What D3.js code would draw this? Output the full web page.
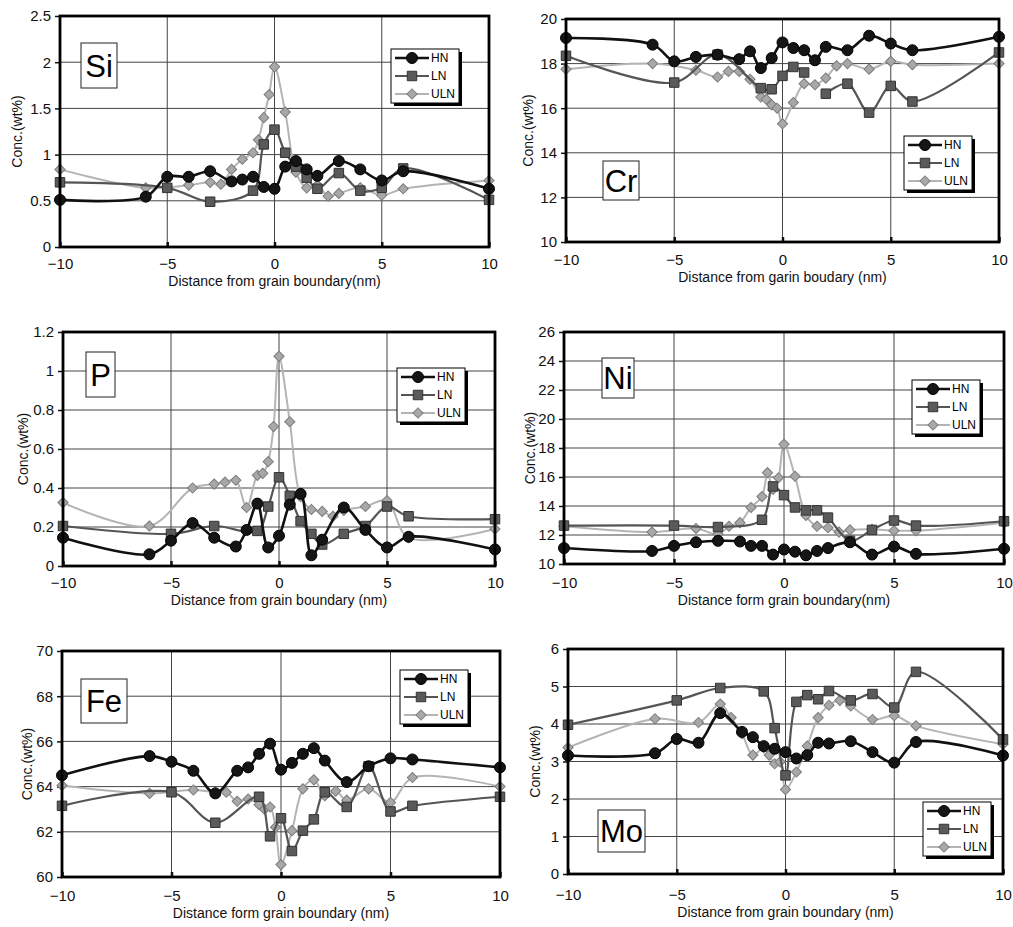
<!DOCTYPE html>
<html>
<head>
<meta charset="utf-8">
<script src="https://cdn.jsdelivr.net/npm/d3@7"></script>
<style>
  body { margin: 0; background: #fff; }
  svg { font-family: "Liberation Sans", Arial, sans-serif; }
</style>
</head>
<body>
<div id="chart"></div>
<script>
// x ticks shared by all panels
var xTicks = [-10, -5, 0, 5, 10];
var seriesNames = ['HN', 'LN', 'ULN'];

// Si
var siHN = [[-10,0.51],[-6,0.545],[-5,0.76],[-4,0.76],[-3,0.82],[-2,0.71],[-1.5,0.73],[-1,0.76],[-0.5,0.65],[0,0.63],[0.5,0.87],[1,0.93],[1.5,0.84],[2,0.77],[3,0.93],[4,0.84],[5,0.72],[6,0.82],[10,0.63]];
var siLN = [[-10,0.70],[-5,0.64],[-3,0.49],[-1,0.61],[-0.5,1.11],[0,1.27],[0.5,1.02],[1,0.87],[1.5,0.75],[2,0.63],[3,0.80],[4,0.61],[5,0.64],[6,0.85],[10,0.51]];
var siULN = [[-10,0.84],[-6,0.64],[-4,0.67],[-3,0.70],[-2.5,0.68],[-2,0.84],[-1.5,0.95],[-1,1.02],[-0.75,1.16],[-0.5,1.40],[-0.25,1.65],[0,1.95],[0.5,1.46],[1,0.81],[1.5,0.64],[2,0.67],[2.5,0.55],[3,0.58],[4,0.64],[5,0.56],[6,0.63],[10,0.72]];

// Cr
var crHN = [[-10,19.15],[-6,18.85],[-5,18.1],[-4,18.3],[-3,18.4],[-2,18.2],[-1.5,18.55],[-1,17.8],[-0.5,18.25],[0,18.95],[0.5,18.7],[1,18.6],[1.5,18.15],[2,18.75],[3,18.6],[4,19.25],[5,18.9],[6,18.6],[10,19.2]];
var crLN = [[-10,18.35],[-5,17.15],[-3,18.4],[-1,16.9],[-0.5,16.85],[0,17.45],[0.5,17.85],[1,17.6],[1.5,null],[2,16.65],[3,17.1],[4,15.8],[5,17.0],[6,16.3],[10,18.5]];
var crULN = [[-10,17.75],[-6,18.0],[-4,17.7],[-3,17.4],[-2.5,17.65],[-2,17.65],[-1.5,17.3],[-1,16.5],[-0.75,16.4],[-0.5,16.15],[-0.25,16.0],[0,15.3],[0.5,16.25],[1,17.1],[1.5,17.05],[2,17.35],[2.5,17.9],[3,18.0],[4,17.75],[5,18.1],[6,17.95],[10,18.0]];

// P
var pHN = [[-10,0.145],[-6,0.06],[-5,0.13],[-4,0.22],[-3,0.145],[-2,0.10],[-1.5,0.185],[-1,0.32],[-0.5,0.095],[0,0.155],[0.5,0.315],[1,0.37],[1.5,0.055],[2,0.135],[3,0.30],[4,0.185],[5,0.095],[6,0.15],[10,0.085]];
var pLN = [[-10,0.205],[-5,0.165],[-3,0.205],[-1,0.18],[-0.5,0.305],[0,0.455],[0.5,0.36],[1,0.23],[1.5,0.165],[2,0.11],[3,0.165],[4,0.205],[5,0.305],[6,0.255],[10,0.24]];
var pULN = [[-10,0.325],[-6,0.205],[-4,0.40],[-3,0.42],[-2.5,0.43],[-2,0.44],[-1.5,0.30],[-1,0.465],[-0.75,0.475],[-0.5,0.535],[-0.25,0.715],[0,1.075],[0.5,0.74],[1,0.355],[1.5,0.29],[2,0.28],[2.5,0.255],[3,0.285],[4,0.305],[5,0.335],[6,0.145],[10,0.19]];

// Ni
var niHN = [[-10,11.1],[-6,10.9],[-5,11.25],[-4,11.5],[-3,11.6],[-2,11.55],[-1.5,11.25],[-1,11.25],[-0.5,10.65],[0,11.0],[0.5,10.85],[1,10.6],[1.5,10.9],[2,11.1],[3,11.5],[4,10.65],[5,11.2],[6,10.7],[10,11.05]];
var niLN = [[-10,12.65],[-5,12.65],[-3,12.55],[-1,13.05],[-0.5,15.35],[0,14.75],[0.5,13.9],[1,13.7],[1.5,13.7],[2,13.2],[3,11.6],[4,12.35],[5,13.0],[6,12.65],[10,12.95]];
var niULN = [[-10,12.6],[-6,12.2],[-4,12.45],[-3,12.05],[-2.5,12.6],[-2,12.85],[-1.5,13.9],[-1,14.65],[-0.75,16.3],[-0.5,15.15],[-0.25,15.95],[0,18.25],[0.5,16.05],[1,13.35],[1.5,12.6],[2,12.5],[2.5,12.2],[3,12.35],[4,12.4],[5,12.3],[6,12.3],[10,12.85]];

// Fe
var feHN = [[-10,64.5],[-6,65.35],[-5,65.1],[-4,64.7],[-3,63.7],[-2,64.7],[-1.5,64.85],[-1,65.45],[-0.5,65.9],[0,64.75],[0.5,65.05],[1,65.45],[1.5,65.7],[2,65.15],[3,64.2],[4,64.9],[5,65.25],[6,65.2],[10,64.85]];
var feLN = [[-10,63.15],[-5,63.75],[-3,62.4],[-1,63.55],[-0.5,61.8],[0,62.6],[0.5,61.15],[1,62.05],[1.5,62.55],[2,63.75],[3,63.1],[4,64.9],[5,62.9],[6,63.15],[10,63.55]];
var feULN = [[-10,64.05],[-6,63.7],[-4,63.85],[-3,63.75],[-2.5,63.75],[-2,63.35],[-1.5,63.45],[-1,63.2],[-0.75,63.0],[-0.5,63.1],[-0.25,62.2],[0,60.55],[0.5,62.05],[1,63.9],[1.5,64.3],[2,63.6],[2.5,63.8],[3,63.4],[4,63.9],[5,63.3],[6,64.4],[10,64.0]];

// Mo
var moHN = [[-10,3.16],[-6,3.22],[-5,3.6],[-4,3.5],[-3,4.29],[-2,3.79],[-1.5,3.65],[-1,3.41],[-0.5,3.34],[0,3.25],[0.5,3.08],[1,3.17],[1.5,3.5],[2,3.48],[3,3.54],[4,3.25],[5,2.97],[6,3.52],[10,3.16]];
var moLN = [[-10,3.98],[-5,4.63],[-3,4.96],[-1,4.87],[-0.5,3.89],[0,2.63],[0.5,4.59],[1,4.77],[1.5,4.66],[2,4.88],[3,4.63],[4,4.8],[5,4.44],[6,5.39],[10,3.59]];
var moULN = [[-10,3.37],[-6,4.14],[-4,4.04],[-3,4.53],[-2.5,4.17],[-2,3.74],[-1.5,3.17],[-1,3.37],[-0.75,3.17],[-0.5,2.94],[-0.25,2.99],[0,2.25],[0.5,2.72],[1,3.41],[1.5,4.17],[2,4.5],[2.5,4.63],[3,4.48],[4,4.12],[5,4.22],[6,3.95],[10,3.46]];

// y ticks per panel
var siTicks = [0, 0.5, 1, 1.5, 2, 2.5];
var crTicks = [10, 12, 14, 16, 18, 20];
var pTicks = [0, 0.2, 0.4, 0.6, 0.8, 1, 1.2];
var niTicks = [10, 12, 14, 16, 18, 20, 22, 24, 26];
var feTicks = [60, 62, 64, 66, 68, 70];
var moTicks = [0, 1, 2, 3, 4, 5, 6];

var panels = [
  { el: 'Si', data: [siHN, siLN, siULN], yTicks: siTicks,
    box: [60, 16, 489, 247], xTitle: 'Distance from grain boundary(nm)', tickY: 264, titleY: 286, yLabX: 17,
    label: [81, 43, 36, 45], legend: [391, 49] },
  { el: 'Cr', data: [crHN, crLN, crULN], yTicks: crTicks,
    box: [566, 19, 999, 242], xTitle: 'Distance from garin boudary (nm)', tickY: 260, titleY: 282, yLabX: 528,
    label: [603, 161, 36, 39], legend: [904, 136] },
  { el: 'P', data: [pHN, pLN, pULN], yTicks: pTicks,
    box: [63, 332, 495, 566], xTitle: 'Distance from grain boundary (nm)', tickY: 583, titleY: 605, yLabX: 23,
    label: [86, 352, 29, 45], legend: [397, 368] },
  { el: 'Ni', data: [niHN, niLN, niULN], yTicks: niTicks,
    box: [564, 332, 1004, 564], xTitle: 'Distance form grain boundary(nm)', tickY: 583, titleY: 605, yLabX: 530,
    label: [602, 358, 32, 40], legend: [912, 380] },
  { el: 'Fe', data: [feHN, feLN, feULN], yTicks: feTicks,
    box: [62, 651, 500, 877], xTitle: 'Distance form grain boundary (nm)', tickY: 896, titleY: 918, yLabX: 27,
    label: [81, 679, 46, 44], legend: [400, 670] },
  { el: 'Mo', data: [moHN, moLN, moULN], yTicks: moTicks,
    box: [568, 649, 1003, 874], xTitle: 'Distance from grain boundary (nm)', tickY: 895, titleY: 917, yLabX: 535,
    label: [598, 810, 47, 42], legend: [923, 802] }
];

var styles = [
  { line: '#111', fill: '#151515', stroke: '#000', width: 2.6, symbol: d3.symbolCircle, size: 95, rot: 0 },
  { line: '#555', fill: '#5a5a5a', stroke: '#333', width: 2.2, symbol: d3.symbolSquare, size: 90, rot: 0 },
  { line: '#b4b4b4', fill: '#a8a8a8', stroke: '#7c7c7c', width: 2, symbol: d3.symbolSquare, size: 52, rot: 45 }
];

var svg = d3.select('#chart').append('svg')
  .attr('width', 1013)
  .attr('height', 927);

var fmt = function(d) { return d < 0 ? '\u2212' + Math.abs(d) : String(d); };

panels.forEach(function(p) {
  var l = p.box[0], t = p.box[1], r = p.box[2], b = p.box[3];
  var x = d3.scaleLinear().domain([-10, 10]).range([l, r]);
  var yMin = p.yTicks[0], yMax = p.yTicks[p.yTicks.length - 1];
  var y = d3.scaleLinear().domain([yMin, yMax]).range([b, t]);
  var g = svg.append('g');

  // grid
  g.selectAll('.hgrid').data(p.yTicks.slice(1, -1)).enter().append('line')
    .attr('x1', l).attr('x2', r)
    .attr('y1', function(d) { return y(d); }).attr('y2', function(d) { return y(d); })
    .attr('stroke', '#444').attr('stroke-width', 1);
  g.selectAll('.vgrid').data(xTicks.slice(1, -1)).enter().append('line')
    .attr('y1', t).attr('y2', b)
    .attr('x1', function(d) { return x(d); }).attr('x2', function(d) { return x(d); })
    .attr('stroke', '#444').attr('stroke-width', 1);

  // axes (labels only, frame drawn separately)
  var yAxis = d3.axisLeft(y).tickValues(p.yTicks).tickSize(5).tickFormat(d3.format(''));
  var ya = g.append('g').attr('transform', 'translate(' + l + ',0)').call(yAxis);
  ya.select('.domain').remove();
  ya.selectAll('text').attr('font-size', 15).attr('fill', '#111').attr('x', -9);
  ya.selectAll('line').attr('stroke', '#111').attr('stroke-width', 1.5);

  var xAxis = d3.axisBottom(x).tickValues(xTicks).tickSize(-5).tickFormat(fmt);
  var xa = g.append('g').attr('transform', 'translate(0,' + b + ')').call(xAxis);
  xa.select('.domain').remove();
  xa.selectAll('text').attr('font-size', 15).attr('fill', '#111').attr('y', p.tickY - b).attr('dy', '0.35em');
  xa.selectAll('line').attr('stroke', '#111').attr('stroke-width', 2.5);

  // axis titles
  g.append('text')
    .attr('x', (l + r) / 2).attr('y', p.titleY)
    .attr('text-anchor', 'middle').attr('font-size', 14).attr('fill', '#111')
    .text(p.xTitle);
  g.append('text')
    .attr('transform', 'translate(' + p.yLabX + ',' + ((t + b) / 2) + ') rotate(-90)')
    .attr('text-anchor', 'middle').attr('dy', '0.35em').attr('font-size', 14).attr('fill', '#111')
    .text('Conc.(wt%)');

  // series: draw ULN first so HN sits on top
  [2, 1, 0].forEach(function(si) {
    var s = styles[si];
    var pts = p.data[si];
    var line = d3.line()
      .defined(function(d) { return d[1] !== null; })
      .x(function(d) { return x(d[0]); })
      .y(function(d) { return y(d[1]); })
      .curve(d3.curveCatmullRom.alpha(0.5));
    g.append('path').datum(pts)
      .attr('d', line)
      .attr('fill', 'none')
      .attr('stroke', s.line)
      .attr('stroke-width', s.width);
    g.selectAll('.m' + si).data(pts.filter(function(d) { return d[1] !== null; })).enter()
      .append('path')
      .attr('d', d3.symbol().type(s.symbol).size(s.size))
      .attr('transform', function(d) { return 'translate(' + x(d[0]) + ',' + y(d[1]) + ') rotate(' + s.rot + ')'; })
      .attr('fill', s.fill)
      .attr('stroke', s.stroke)
      .attr('stroke-width', 1);
  });

  // frame
  g.append('rect')
    .attr('x', l).attr('y', t).attr('width', r - l).attr('height', b - t)
    .attr('fill', 'none').attr('stroke', '#000').attr('stroke-width', 2.8);

  // element label
  var lb = p.label;
  g.append('rect')
    .attr('x', lb[0]).attr('y', lb[1]).attr('width', lb[2]).attr('height', lb[3])
    .attr('fill', '#fff').attr('stroke', '#222').attr('stroke-width', 1);
  g.append('text')
    .attr('x', lb[0] + lb[2] / 2).attr('y', lb[1] + lb[3] / 2)
    .attr('dy', '0.36em').attr('text-anchor', 'middle')
    .attr('font-size', 31).attr('fill', '#000')
    .text(p.el);

  // legend
  var lx = p.legend[0], ly = p.legend[1];
  var lw = 68, lh = 54;
  g.append('rect').attr('x', lx + 3).attr('y', ly + 3).attr('width', lw).attr('height', lh).attr('fill', '#000');
  g.append('rect').attr('x', lx).attr('y', ly).attr('width', lw).attr('height', lh)
    .attr('fill', '#fff').attr('stroke', '#000').attr('stroke-width', 1);
  seriesNames.forEach(function(name, i) {
    var s = styles[i];
    var yy = ly + 9 + i * 18;
    g.append('line').attr('x1', lx + 4).attr('x2', lx + 38).attr('y1', yy).attr('y2', yy)
      .attr('stroke', s.line).attr('stroke-width', s.width);
    g.append('path')
      .attr('d', d3.symbol().type(s.symbol).size(s.size))
      .attr('transform', 'translate(' + (lx + 21) + ',' + yy + ') rotate(' + s.rot + ')')
      .attr('fill', s.fill).attr('stroke', s.stroke);
    g.append('text').attr('x', lx + 40).attr('y', yy).attr('dy', '0.35em')
      .attr('font-size', 12).attr('fill', '#000').text(name);
  });
});
</script>
</body>
</html>
